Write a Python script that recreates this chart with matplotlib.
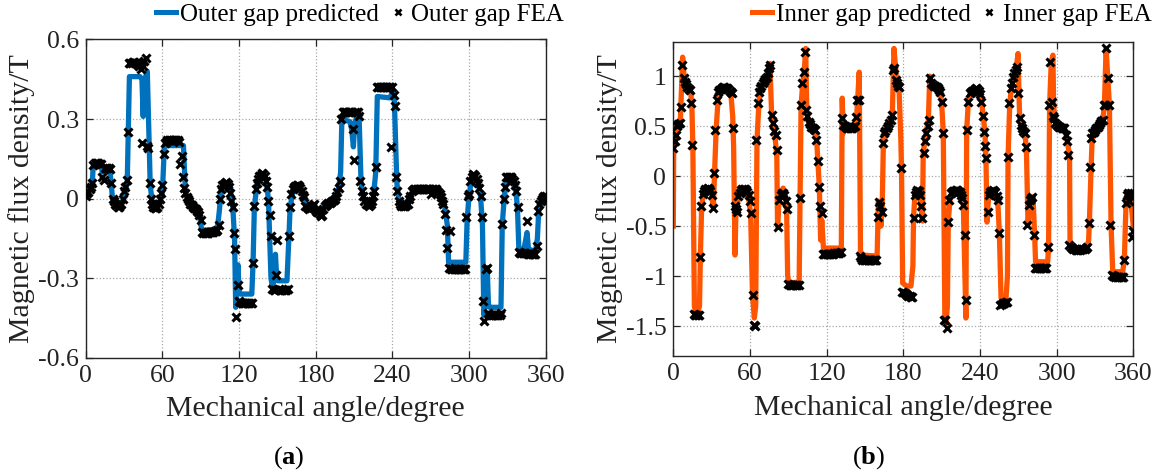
import numpy as np
import matplotlib
matplotlib.use('Agg')
import matplotlib.pyplot as plt
from matplotlib.lines import Line2D

plt.rcParams['font.family'] = ['Liberation Serif', 'DejaVu Serif']
plt.rcParams['mathtext.fontset'] = 'custom'
plt.rcParams['mathtext.rm'] = 'Liberation Serif'
plt.rcParams['mathtext.bf'] = 'Liberation Serif:bold'
plt.rcParams['axes.unicode_minus'] = False

# ---------------- data ----------------
angle_ticks = [0, 60, 120, 180, 240, 300, 360]
angle_ticklabels = ['0', '60', '120', '180', '240', '300', '360']
outer_yticks = [-0.6, -0.3, 0, 0.3, 0.6]
outer_yticklabels = ['-0.6', '-0.3', '0', '0.3', '0.6']
inner_yticks = [-1.5, -1, -0.5, 0, 0.5, 1]
inner_yticklabels = ['-1.5', '-1', '-0.5', '0', '0.5', '1']

outer_pred_x = [0, 3, 5, 6, 12, 13, 14, 19, 21, 23, 26, 29, 31, 32.5, 34.2, 42.5, 44, 45, 45.6, 48.2,
                50.5, 52, 55, 58, 60, 61.5, 63, 76.5, 78, 80, 83, 87, 89, 90.5, 91.5, 103, 104.5, 106,
                109, 111, 113, 115, 116.5, 117.4, 118.4, 119.2, 120, 121, 130, 131, 132, 134, 138, 141,
                143, 145, 146, 147.5, 148.5, 149.5, 150.5, 157.5, 159, 160, 162, 165, 167, 170, 172,
                175, 180, 184, 187, 192, 196, 198, 199.5, 200.5, 206.8, 208.2, 209.5, 210.5, 211.5,
                214, 215.5, 217, 220, 222, 225, 227, 228.2, 238, 240, 241.5, 243.5, 245, 247.5, 251,
                254, 256, 276, 278, 281, 283, 284, 297.5, 298.5, 300, 302, 305, 307, 309, 310.5,
                311.6, 313, 314.2, 315.2, 316, 325, 326, 327.5, 329, 332, 335, 337, 338, 339, 343,
                344.5, 345.4, 346.5, 352, 353.5, 354.5, 356, 358, 360]
outer_pred_y = [0.01, 0.03, 0.05, 0.13, 0.125, 0.1, 0.105, 0.105, 0.0, -0.02, -0.03, -0.01, 0.03, 0.06,
                0.46, 0.46, 0.45, 0.31, 0.44, 0.48, 0.05, -0.01, -0.03, -0.01, 0.02, 0.19, 0.2, 0.2,
                0.03, 0.0, -0.025, -0.045, -0.06, -0.11, -0.12, -0.115, -0.05, 0.03, 0.058, 0.06,
                0.04, -0.02, -0.15, -0.41, -0.33, -0.25, -0.35, -0.36, -0.36, -0.24, -0.03, 0.05,
                0.09, 0.07, 0.0, -0.30, -0.33, -0.31, -0.21, -0.3, -0.31, -0.31, -0.15, -0.03, 0.02,
                0.05, 0.05, 0.02, -0.02, -0.035, -0.045, -0.06, -0.03, -0.015, 0.005, 0.04, 0.1,
                0.30, 0.29, 0.26, 0.195, 0.28, 0.30, 0.30, 0.06, 0.01, -0.02, -0.025, 0.0, 0.1,
                0.385, 0.38, 0.40, 0.38, 0.06, 0.0, -0.027, -0.025, 0.01, 0.03, 0.03, 0.015, -0.03,
                -0.1, -0.24, -0.24, -0.08, 0.01, 0.075, 0.08, 0.06, 0.01, -0.1, -0.44, -0.38, -0.26,
                -0.40, -0.41, -0.41, -0.1, 0.0, 0.06, 0.08, 0.06, 0.02, -0.05, -0.19, -0.19, -0.15,
                -0.128, -0.19, -0.2, -0.15, -0.05, -0.02, 0.0, 0.005]

# FEA samples, one per mechanical degree from 0 to 360
outer_fea = [
    0.01, 0.02, 0.025, 0.035, 0.045, 0.06, 0.125, 0.135, 0.135, 0.135,
    0.135, 0.13, 0.13, 0.08, 0.07, 0.115, 0.115, 0.115, 0.115, 0.11,
    0.06, 0.0, -0.01, -0.02, -0.025, -0.03, -0.03, -0.025, -0.02, 0.0,
    0.03, 0.045, 0.07, 0.25, 0.51, 0.513, 0.513, 0.515, 0.515, 0.513,
    0.51, 0.505, 0.5, 0.49, 0.21, 0.5, 0.52, 0.53, 0.2, 0.19,
    0.06, 0.0, -0.02, -0.03, -0.035, -0.035, -0.03, -0.02, 0.0, 0.02,
    0.05, 0.17, 0.21, 0.215, 0.22, 0.22, 0.22, 0.22, 0.22, 0.22,
    0.22, 0.22, 0.22, 0.215, 0.13, 0.16, 0.08, 0.04, 0.02, 0.005,
    0.0, -0.01, -0.02, -0.025, -0.03, -0.035, -0.04, -0.045, -0.05, -0.06,
    -0.08, -0.125, -0.128, -0.128, -0.128, -0.128, -0.128, -0.127, -0.127, -0.126,
    -0.125, -0.124, -0.122, -0.118, -0.1, 0.0, 0.037, 0.05, 0.056, 0.06,
    0.062, 0.055, 0.043, 0.02, -0.01, -0.03, -0.13, -0.19, -0.445, -0.325,
    -0.385, -0.39, -0.392, -0.394, -0.394, -0.394, -0.394, -0.394, -0.394, -0.394,
    -0.392, -0.242, -0.027, 0.037, 0.06, 0.075, 0.085, 0.09, 0.095, 0.093,
    0.085, 0.068, 0.045, -0.01, -0.06, -0.14, -0.34, -0.345, -0.345, -0.29,
    -0.155, -0.34, -0.345, -0.345, -0.345, -0.345, -0.345, -0.345, -0.34, -0.14,
    -0.03, 0.017, 0.035, 0.045, 0.049, 0.05, 0.05, 0.049, 0.04, 0.03,
    0.015, 0.005, -0.027, -0.03, -0.035, -0.04, -0.035, -0.03, -0.025, -0.02,
    -0.046, -0.05, -0.052, -0.058, -0.065, -0.06, -0.04, -0.027, -0.025, -0.02,
    -0.018, -0.015, -0.012, -0.01, -0.005, -0.002, 0.01, 0.024, 0.04, 0.068,
    0.30, 0.328, 0.328, 0.328, 0.328, 0.328, 0.328, 0.328, 0.328, 0.264,
    0.144, 0.328, 0.328, 0.328, 0.31, 0.068, 0.03, 0.011, -0.01, -0.02,
    -0.02, -0.025, -0.027, -0.02, -0.01, 0.011, 0.03, 0.12, 0.42, 0.42,
    0.42, 0.42, 0.42, 0.42, 0.42, 0.42, 0.42, 0.42, 0.42, 0.195,
    0.42, 0.39, 0.35, 0.08, 0.03, -0.008, -0.02, -0.027, -0.027, -0.027,
    -0.027, -0.025, -0.02, 0.0, 0.011, 0.03, 0.033, 0.036, 0.036, 0.036,
    0.036, 0.036, 0.036, 0.036, 0.036, 0.036, 0.036, 0.036, 0.036, 0.036,
    0.017, 0.036, 0.036, 0.036, 0.036, 0.03, 0.025, 0.017, 0.005, -0.01,
    -0.02, -0.058, -0.12, -0.185, -0.26, -0.122, -0.267, -0.267, -0.267, -0.267,
    -0.267, -0.267, -0.267, -0.267, -0.267, -0.267, -0.267, -0.265, -0.071, 0.011,
    0.017, 0.068, 0.08, 0.093, 0.09, 0.085, 0.074, 0.06, 0.04, 0.011,
    -0.071, -0.388, -0.46, -0.267, -0.26, -0.43, -0.44, -0.44, -0.44, -0.44,
    -0.44, -0.44, -0.44, -0.44, -0.44, -0.43, -0.096, -0.002, 0.043, 0.081,
    0.083, 0.083, 0.083, 0.08, 0.075, 0.068, 0.05, 0.03, -0.033, -0.2,
    -0.204, -0.204, -0.205, -0.206, -0.207, -0.084, -0.208, -0.208, -0.21, -0.21,
    -0.21, -0.21, -0.21, -0.178, -0.046, -0.02, -0.01, 0.0, 0.005, 0.01, 0.011]

inner_pred_x = [0, 0.3, 2, 4, 5.5, 6.5, 7.3, 8.5, 10, 12, 13.5, 14.5, 15.3, 16.5, 17.5, 19, 20.5, 21.2,
                22.2, 23.5, 27, 30, 31.3, 32.2, 33.5, 35, 36.5, 41, 45, 46.5, 47.2, 48.3, 49, 50, 51.5,
                54.7, 58.6, 60.5, 62, 63.4, 64.5, 65.5, 67, 68, 70, 73, 75.6, 77, 78.2, 79.5, 81, 81.6,
                82.5, 83.5, 86, 87.5, 88.7, 89.5, 90.5, 98.5, 99.2, 100, 101.3, 102.5, 103.6, 104.5,
                105.7, 108.3, 110.9, 112.2, 114.3, 115.3, 116.2, 117.5, 131.5, 132.2, 133, 134, 138,
                142, 143.5, 145.5, 146.5, 147.5, 159.5, 160.5, 161.5, 162.5, 163.5, 164.4, 165.6, 167,
                169.1, 171.4, 172.7, 174.8, 176.6, 178, 178.6, 179.5, 182.5, 186, 187.5, 188, 189.1,
                191.7, 193, 195, 195.6, 197.7, 199.6, 200.7, 202.2, 206.1, 208.7, 210, 211.3, 212.5,
                213.5, 214.5, 215.2, 216.5, 217.8, 221.7, 225.6, 227, 227.5, 229, 229.6, 230.9, 232.2,
                237.4, 241.3, 243.9, 244.7, 245.5, 246.5, 247.5, 249.9, 253.9, 255.2, 256.5, 260.4,
                261.5, 262, 263.3, 264.6, 267.2, 268.5, 269.8, 270.5, 271.1, 272.4, 275, 276.3, 277.6,
                278.9, 281.5, 282.8, 283.5, 293, 293.7, 294.5, 295.8, 297.1, 297.6, 298.4, 299.7,
                302.3, 306.2, 307.5, 310.1, 310.5, 312, 318, 323, 325, 325.6, 327, 327.8, 330.9, 333.5,
                336.1, 337.4, 338.7, 340, 341.3, 342.6, 343.9, 351.7, 353, 354.3, 355.6, 357, 358.5, 360]
inner_pred_y = [-0.5, 0.28, 0.41, 0.52, 0.55, 0.9, 1.19, 0.98, 0.94, 0.89, 0.85, 0.72, 0.3, -1.3, -1.37,
                -1.37, -1.3, -0.8, -0.3, -0.17, -0.12, -0.19, -0.32, 0.0, 0.46, 0.76, 0.84, 0.885, 0.83,
                0.6, 0.3, -0.79, -0.36, -0.3, -0.17, -0.133, -0.19, -0.37, -1.19, -1.42, -1.3, 0.36,
                0.73, 0.84, 0.92, 0.99, 1.127, 0.6, 0.53, 0.41, 0.2, -0.51, -0.3, -0.2, -0.12, -0.2,
                -0.35, -1.0, -1.07, -1.06, -0.22, 0.71, 0.93, 1.05, 1.277, 0.66, 0.543, 0.493, 0.46,
                0.36, -0.11, -0.64, -0.44, -0.72, -0.72, 0.78, 0.43, 0.5, 0.475, 0.5, 0.6, 1.04, -0.76,
                -0.79, -0.8, -0.25, -0.35, -0.5, -0.3, 0.327, 0.427, 0.477, 0.527, 0.61, 1.277, 0.96,
                0.893, 0.4, 0.077, -1.07, -1.1, -1.1, -0.9, -0.42, -0.19, -0.14, -0.19, -0.45, 0.227,
                0.427, 0.56, 1.0, 0.927, 0.893, 0.843, 0.743, 0.427, -1.4, -1.47, -1.3, -0.457, -0.24,
                -0.173, -0.14, -0.19, -0.29, -0.59, -1.42, 0.46, 0.743, 0.827, 0.877, 0.743, 0.443,
                0.177, -0.46, -0.25, -0.17, -0.14, -0.24, -0.573, -1.22, -1.22, -1.0, 0.193, 0.727,
                0.877, 1.027, 1.093, 1.227, 0.83, 0.577, 0.51, 0.427, 0.293, -0.49, -0.29, -0.207,
                -0.59, -0.857, -0.857, -0.707, 0.71, 1.143, 1.21, 0.743, 0.577, 0.527, 0.493, 0.477,
                0.41, 0.21, -0.69, -0.72, -0.73, -0.72, -0.65, -0.473, 0.093, 0.377, 0.477, 0.51,
                0.56, 0.71, 1.277, 1.0, 0.71, -0.49, -0.957, -0.957, -0.84, -0.273, -0.157, -0.16,
                -0.3, -0.507]

inner_fea = [
    0.28, 0.35, 0.41, 0.5, 0.52, 0.53, 0.69, 1.11, 0.98, 0.94,
    0.92, 0.89, 0.87, 0.86, 0.73, 0.31, -1.38, -1.39, -1.39, -1.39,
    -1.385, -0.81, -0.30, -0.18, -0.15, -0.13, -0.125, -0.123, -0.13, -0.15,
    -0.19, -0.32, 0.03, 0.46, 0.76, 0.84, 0.86, 0.87, 0.88, 0.887,
    0.887, 0.885, 0.88, 0.87, 0.85, 0.84, 0.83, 0.48, -0.30, -0.33,
    -0.36, -0.2, -0.17, -0.14, -0.13, -0.125, -0.13, -0.14, -0.16, -0.19,
    -0.25, -0.37, -1.19, -1.49, -1.5, 0.36, 0.73, 0.84, 0.88, 0.9,
    0.93, 0.95, 0.97, 0.99, 1.03, 1.08, 1.11, 0.61, 0.53, 0.45,
    0.41, 0.26, -0.51, -0.24, -0.19, -0.17, -0.167, -0.19, -0.25, -0.333,
    -1.08, -1.09, -1.09, -1.09, -1.09, -1.09, -1.09, -1.09, -1.085, -0.22,
    0.71, 0.93, 1.04, 1.24, 0.66, 0.6, 0.54, 0.52, 0.49, 0.48,
    0.47, 0.46, 0.36, 0.15, -0.11, -0.3, -0.37, -0.78, -0.78, -0.78,
    -0.78, -0.78, -0.78, -0.78, -0.775, -0.775, -0.77, -0.77, -0.77, -0.765,
    -0.765, -0.76, 0.58, 0.51, 0.5, 0.49, 0.48, 0.477, 0.477, 0.477,
    0.48, 0.49, 0.5, 0.59, 0.76, 0.76, -0.8, -0.82, -0.84, -0.84,
    -0.84, -0.84, -0.84, -0.84, -0.84, -0.84, -0.84, -0.84, -0.84, -0.84,
    -0.41, -0.257, -0.3, -0.357, 0.327, 0.427, 0.45, 0.477, 0.5, 0.527,
    0.56, 0.61, 1.06, 1.08, 0.96, 0.93, 0.9, 0.893, 0.077, -1.157,
    -1.16, -1.17, -1.18, -1.19, -1.2, -1.2, -1.207, -1.21, -0.42, -0.19,
    -0.16, -0.14, -0.15, -0.19, -0.3, -0.42, 0.23, 0.35, 0.43, 0.5,
    0.56, 0.98, 0.93, 0.91, 0.905, 0.9, 0.893, 0.88, 0.86, 0.843,
    0.743, 0.427, -1.44, -1.44, -1.52, -0.457, -0.24, -0.173, -0.16, -0.15,
    -0.145, -0.14, -0.14, -0.15, -0.16, -0.19, -0.22, -0.29, -0.59, -1.24,
    0.46, 0.743, 0.827, 0.84, 0.855, 0.865, 0.875, 0.877, 0.87, 0.855,
    0.82, 0.743, 0.6, 0.443, 0.3, 0.177, -0.357, -0.19, -0.16, -0.145,
    -0.14, -0.145, -0.16, -0.2, -0.24, -0.573, -1.29, -1.28, -1.27, -1.265,
    -1.26, -1.26, 0.193, 0.727, 0.877, 0.93, 0.993, 1.027, 1.06, 1.093,
    0.827, 0.577, 0.51, 0.477, 0.45, 0.427, 0.293, -0.49, -0.29, -0.24,
    -0.22, -0.207, -0.59, -0.92, -0.92, -0.92, -0.92, -0.92, -0.92, -0.92,
    -0.92, -0.92, -0.92, -0.71, 0.71, 1.14, 0.743, 0.6, 0.577, 0.527,
    0.51, 0.5, 0.493, 0.49, 0.485, 0.48, 0.477, 0.41, 0.35, 0.21,
    -0.69, -0.71, -0.72, -0.73, -0.73, -0.735, -0.735, -0.735, -0.735, -0.73,
    -0.73, -0.73, -0.725, -0.72, -0.71, -0.473, 0.093, 0.377, 0.427, 0.44,
    0.46, 0.477, 0.49, 0.51, 0.53, 0.55, 0.56, 0.71, 0.71, 1.277,
    0.977, 0.71, -0.49, -0.99, -1.0, -1.0, -1.005, -1.005, -1.007, -1.007,
    -1.007, -1.007, -1.007, -0.84, -0.27, -0.19, -0.17, -0.25, -0.17, -0.61, -0.55]

# ---------------- styling ----------------
BLUE = '#0072BD'
ORANGE = '#FF5500'
W, H = 1156, 473

fig = plt.figure(figsize=(W / 100, H / 100), dpi=100)


def px_axes(l, t, r, b):
    return fig.add_axes([l / W, 1 - b / H, (r - l) / W, (b - t) / H])


def style(ax, yticks, yticklabels, ylim):
    ax.set_xlim(0, 360)
    ax.set_ylim(*ylim)
    ax.set_xticks(angle_ticks)
    ax.set_xticklabels(angle_ticklabels)
    ax.set_yticks(yticks)
    ax.set_yticklabels(yticklabels)
    ax.grid(True, color='#a8a8a8', linestyle=':', linewidth=0.9)
    ax.set_axisbelow(True)
    ax.tick_params(direction='in', top=True, right=True, length=5, width=0.9,
                   labelsize=18.5, pad=5, colors='#262626', labelcolor='#222222')
    for s in ax.spines.values():
        s.set_linewidth(1.0)
        s.set_color('#262626')
    ax.set_xlabel('Mechanical angle/degree', fontsize=21.5, color='#222222', labelpad=7)
    ax.set_ylabel('Magnetic flux density/T', fontsize=21.5, color='#222222', labelpad=2)


fea_angle_outer = np.arange(len(outer_fea))
fea_angle_inner = np.arange(len(inner_fea))

axa = px_axes(85.7, 39.5, 545.7, 357.7)
axa.plot(outer_pred_x, outer_pred_y, color=BLUE, lw=3.8, solid_joinstyle='round', zorder=2)
axa.plot(fea_angle_outer, outer_fea, linestyle='none', marker='x', color='black',
         markersize=5.5, markeredgewidth=2.2, zorder=3)
style(axa, outer_yticks, outer_yticklabels, (-0.6, 0.6))

axb = px_axes(673.3, 41.7, 1133.3, 356.0)
axb.plot(inner_pred_x, inner_pred_y, color=ORANGE, lw=3.8, solid_joinstyle='round', zorder=2)
axb.plot(fea_angle_inner, inner_fea, linestyle='none', marker='x', color='black',
         markersize=5.5, markeredgewidth=2.2, zorder=3)
style(axb, inner_yticks, inner_yticklabels, (-1.8, 1.345))


def add_legend(ax, color, names, yanchor):
    handles = [Line2D([], [], color=color, lw=3.6),
               Line2D([], [], linestyle='none', marker='x', color='black',
                      markersize=4.5, markeredgewidth=1.9)]
    ax.legend(handles, names, loc='center right', bbox_to_anchor=(1.04, yanchor),
              ncol=2, frameon=False, fontsize=18, handlelength=0.8,
              handletextpad=0.15, columnspacing=0.35, borderpad=0, borderaxespad=0)


add_legend(axa, BLUE, ['Outer gap predicted', 'Outer gap FEA'], 1.077)
add_legend(axb, ORANGE, ['Inner gap predicted', 'Inner gap FEA'], 1.085)

fig.text(289 / W, 1 - 458 / H, r'($\mathbf{a}$)', ha='center', va='center', fontsize=19)
fig.text(869 / W, 1 - 458 / H, r'($\mathbf{b}$)', ha='center', va='center', fontsize=19)

fig.savefig('out.png', dpi=100)
